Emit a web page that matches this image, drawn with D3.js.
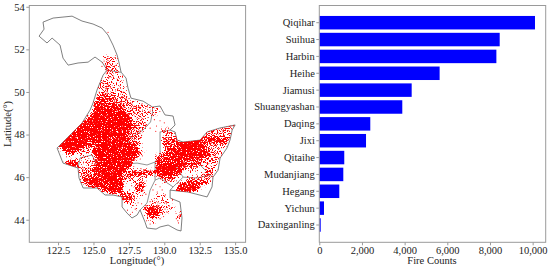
<!DOCTYPE html>
<html><head><meta charset="utf-8">
<script src="https://cdn.jsdelivr.net/npm/d3@7"></script>
<style>html,body{margin:0;padding:0;background:#fff}svg{display:block}text{font-family:"Liberation Serif",serif;fill:#222}</style>
</head><body><div id="c"></div>
<script>
const cities=["Qiqihar","Suihua","Harbin","Heihe","Jiamusi","Shuangyashan","Daqing","Jixi","Qitaihe","Mudanjiang","Hegang","Yichun","Daxinganling"];
const fireCounts=[10110,8456,8300,5640,4330,3890,2390,2190,1170,1125,937,220,66];
const countTicks=[0,2000,4000,6000,8000,10000];
const lonTicks=[122.5,125,127.5,130,132.5,135];
const latTicks=[44,46,48,50,52,54];
const outline=[[121.16,52.62],[121.51,52.95],[121.44,53.28],[122.15,53.47],[123.49,53.56],[124.19,53.33],[124.97,53.19],[125.61,53.0],[126.03,52.67],[126.38,52.2],[126.67,51.73],[126.81,51.36],[126.95,50.93],[127.3,50.65],[127.44,50.18],[127.65,49.71],[128.5,49.57],[129.17,49.29],[129.7,49.34],[130.05,48.92],[130.62,48.87],[130.76,48.45],[130.41,48.21],[130.76,48.12],[130.9,47.74],[131.33,47.65],[132.53,47.74],[133.02,48.12],[133.94,48.31],[135.0,48.45],[134.79,48.21],[134.64,47.74],[134.43,47.37],[133.94,46.9],[133.8,46.33],[133.44,46.0],[133.37,45.54],[133.02,45.07],[131.68,45.3],[130.41,45.39],[130.41,45.02],[131.11,44.83],[131.25,44.08],[131.18,43.47],[130.9,43.52],[130.27,43.75],[129.7,43.66],[129.42,43.56],[128.78,43.61],[128.64,43.89],[128.29,44.46],[128.08,44.22],[127.72,44.08],[127.37,44.31],[127.02,44.6],[127.02,45.07],[126.38,45.16],[125.82,45.16],[125.25,45.49],[124.27,45.49],[123.98,45.96],[123.91,46.43],[122.85,46.66],[122.43,47.37],[123.35,47.98],[124.19,48.54],[124.76,49.15],[124.97,49.48],[125.25,50.09],[125.68,50.79],[125.96,51.03],[125.61,51.4],[125.11,51.64],[124.62,51.4],[123.91,51.36],[123.21,51.26],[122.85,51.59],[122.64,52.2],[122.08,52.53],[121.72,52.3],[121.16,52.62]];
const borders=[
[[125.96,51.03],[126.74,50.93],[126.95,50.93]],
[[129.17,49.29],[129.17,49.05],[129.03,48.59],[128.5,48.21],[127.44,47.74],[127.58,47.37],[127.72,46.8],[127.37,46.62],[128.08,46.66],[128.78,46.57],[129.35,46.71],[129.7,47.04],[129.7,48.12],[130.41,48.21]],
[[129.35,46.71],[129.35,45.86],[129.0,45.39],[128.78,44.78],[128.29,44.46]],
[[129.35,45.86],[129.7,45.96],[130.62,45.54],[130.41,45.39]],
[[130.62,45.54],[131.33,46.0],[132.31,45.96],[133.23,46.1],[133.44,46.0]],
[[130.76,46.57],[131.33,46.0]],
[[132.53,46.57],[133.23,46.1]],
[[123.91,46.43],[124.05,46.9],[124.9,47.04],[125.25,46.57],[124.97,45.96]]
];
// fire cover: [row, first column, last column, level 1-4]
const fireCover=[[0,15,19,1],[1,15,19,1],[2,15,19,1],[3,15,19,2],[4,16,20,2],[5,16,20,1],[6,15,21,1],[7,15,21,1],[8,14,16,2],[8,17,21,1],[9,14,16,2],[9,17,21,1],[10,14,17,2],[10,18,22,1],[11,14,17,2],[11,18,22,1],[12,14,17,2],[12,18,22,1],[13,13,18,3],[13,19,23,2],[14,13,18,3],[14,19,23,2],[15,12,18,3],[15,19,26,2],[16,12,20,3],[16,21,28,2],[16,29,32,1],[17,12,21,4],[17,22,27,2],[17,28,33,1],[18,12,22,4],[18,23,28,2],[18,29,33,1],[19,11,23,4],[19,24,29,2],[19,30,32,1],[20,10,23,4],[20,24,30,1],[21,9,24,4],[21,25,30,1],[22,5,8,3],[22,9,24,4],[22,25,29,2],[23,4,25,4],[23,26,29,2],[23,52,58,1],[24,3,24,4],[24,25,28,2],[24,35,37,1],[24,50,58,2],[25,2,23,4],[25,24,27,2],[25,35,38,2],[25,48,57,2],[26,1,22,4],[26,23,27,2],[26,35,40,2],[26,46,57,2],[27,0,16,4],[27,17,18,2],[27,19,23,4],[27,24,27,2],[27,35,44,2],[27,45,57,3],[28,0,23,4],[28,24,27,2],[28,35,56,3],[29,0,9,4],[29,10,14,3],[29,15,25,4],[29,26,27,2],[29,35,40,3],[29,41,48,4],[29,49,55,2],[30,1,8,4],[30,9,12,2],[30,13,26,4],[30,36,39,3],[30,40,48,4],[30,49,55,2],[31,2,6,4],[31,7,11,2],[31,12,26,4],[31,27,28,2],[31,36,39,3],[31,40,49,4],[31,50,54,2],[32,3,5,3],[32,7,11,1],[32,12,27,4],[32,35,39,3],[32,40,50,4],[32,51,54,2],[33,8,12,1],[33,13,26,4],[33,33,38,3],[33,39,49,4],[33,50,54,2],[34,3,6,1],[34,8,12,1],[34,13,25,4],[34,33,47,3],[34,48,53,2],[35,3,6,4],[35,8,11,1],[35,12,24,4],[35,33,41,4],[35,42,47,3],[35,48,53,2],[36,3,6,4],[36,7,12,1],[36,13,24,4],[36,33,41,4],[36,42,46,3],[36,47,52,1],[37,3,5,3],[37,7,11,2],[37,12,23,4],[37,33,41,4],[37,42,46,2],[37,49,52,2],[38,7,11,2],[38,12,22,4],[38,24,31,3],[38,32,41,4],[38,44,46,1],[38,49,52,2],[39,8,12,2],[39,13,21,4],[39,23,31,3],[39,33,40,4],[39,48,51,3],[40,8,12,3],[40,13,21,4],[40,22,25,2],[40,26,29,1],[40,34,39,3],[40,43,50,1],[41,8,12,3],[41,13,21,4],[41,22,25,2],[41,27,28,2],[41,35,38,2],[41,43,50,3],[42,9,13,3],[42,14,21,4],[42,26,28,3],[42,41,49,3],[43,10,14,3],[43,15,21,4],[43,26,28,3],[43,40,47,4],[44,13,14,2],[44,15,21,4],[44,26,28,3],[44,40,46,4],[45,16,21,3],[45,22,24,2],[45,26,28,2],[45,40,44,4],[46,21,25,3],[46,27,27,1],[46,33,35,1],[46,41,43,3],[47,21,25,3],[47,33,36,1],[47,38,39,1],[48,22,25,2],[48,31,36,1],[49,24,25,1],[49,30,37,1],[50,25,26,1],[50,29,33,3],[50,34,38,1],[51,29,34,4],[51,35,38,1],[52,30,33,4],[52,34,35,1],[52,40,41,2],[53,27,27,1],[53,30,33,3],[53,40,41,3],[54,30,31,1],[55,31,32,1]];
const coverOpacity=[0,.33,.5,.8,1];
const coverLat0=51.68, coverLon0=122.43, coverDlat=.1409, coverDlon=.2119;
const firePoints=[[126.03,52.8],[125.75,51.45],[126.0,51.5],[126.15,51.35],[125.9,51.25],[125.6,51.2],[126.1,51.15],[126.3,51.05],[125.85,51.05],[126.0,51.0],[126.15,51.02],[125.95,50.95],
[125.9,50.85],[126.1,50.7],[126.4,50.75],[126.7,50.6],[125.7,50.5],[126.0,50.4],[126.3,50.45],[126.9,50.3],[125.5,50.25],[125.85,50.15],[126.2,50.2],[126.55,50.1],[127.1,50.0],[125.4,50.0],[125.7,49.9],[126.0,49.95],[126.35,49.85],[126.75,49.8],[127.3,49.7],[125.55,49.65],[125.9,49.7],[126.15,49.6],[126.5,49.55],[126.95,49.5],[127.4,49.45],[127.75,49.5],[125.45,49.4],[125.75,49.45],[126.3,49.35],[126.65,49.3],[127.1,49.25],[127.5,49.2],[128.0,49.3],[128.4,49.4],[128.8,49.3],[126.85,49.05],[127.2,48.95],[127.55,49.0],[127.9,49.05],[128.25,49.1],[128.65,49.05],[129.0,49.1],[129.35,48.95],[127.05,48.7],[127.4,48.75],[127.75,48.7],[128.1,48.8],[128.45,48.75],[128.85,48.8],[129.3,48.7],[129.7,48.65],[127.2,48.45],[127.6,48.5],[127.95,48.4],[128.3,48.55],[128.7,48.45],[129.0,48.3],[129.45,48.4],[130.0,48.55],[130.3,48.3],[127.15,48.15],[127.45,48.2],[127.8,48.05],[128.1,48.1],[128.4,47.95],[129.4,48.15],[127.35,47.95],[127.6,47.85],[127.9,47.75],[127.25,47.55],[127.4,47.35],[127.6,47.2],[127.3,47.1],[128.0,47.4],[128.2,47.15],[128.45,47.0],[128.3,46.85],
[128.35,46.4],[128.6,46.35],[128.15,46.25],[128.9,46.3],[129.15,46.3],[127.9,46.3],[128.2,45.6],[127.7,45.6],[127.55,45.4],[128.5,45.4],[128.6,45.7],[128.45,45.15],[128.7,45.2],[127.85,44.95],[128.15,44.8],[127.4,44.45],[127.75,44.35],[127.6,44.25],[127.95,44.5],[128.4,44.75],
[129.0,44.85],[129.3,45.0],[129.55,44.8],[129.85,44.9],[130.15,44.75],[130.35,44.65],[130.05,44.5],[130.2,44.35],[129.85,44.35],[129.65,44.55],[129.25,44.65],[128.75,44.65],[128.6,44.2],[128.75,43.95],[129.0,43.8],[129.7,44.05],[129.95,44.15],[130.85,44.05],[130.95,43.95],[131.05,44.1],[131.0,43.85],[129.2,45.4],[129.5,45.3],[129.85,45.4],[130.05,45.15],[129.4,45.65],[129.7,45.55],
[133.9,48.2],[134.25,48.3],[134.55,48.2],[134.7,48.4],[134.9,48.42]];

const W=550,H=270;
const svg=d3.select("#c").append("svg").attr("width",W).attr("height",H);
const gray="#9a9a9a",dark="#222";
const left={l:29.3,r:245.6,t:5.5,b:242.3},right={l:319.3,r:545.7,t:5.5,b:242.3};
const x=d3.scaleLinear().domain([120.47,135.74]).range([left.l,left.r]);
const y=d3.scaleLinear().domain([42.94,54.06]).range([left.b,left.t]);
const line=d3.line().x(d=>x(d[0])).y(d=>y(d[1]));
const defs=svg.append("defs");
defs.append("clipPath").attr("id","region").append("path").attr("d",line(outline)+"Z");
const f=defs.append("filter").attr("id","speck").attr("filterUnits","userSpaceOnUse").attr("x",left.l).attr("y",left.t).attr("width",left.r-left.l).attr("height",left.b-left.t).attr("color-interpolation-filters","sRGB");
f.append("feGaussianBlur").attr("in","SourceGraphic").attr("stdDeviation",1.6).attr("result","density");
f.append("feTurbulence").attr("type","fractalNoise").attr("baseFrequency",.8).attr("numOctaves",2).attr("seed",7).attr("result","noise");
f.append("feColorMatrix").attr("in","noise").attr("type","matrix").attr("values","0 0 0 0 0  0 0 0 0 0  0 0 0 0 0  2.6 0 0 0 -.8").attr("result","noiseA");
f.append("feComposite").attr("in","density").attr("in2","noiseA").attr("operator","arithmetic").attr("k1",0).attr("k2",1).attr("k3",1).attr("k4",-1).attr("result","sum");
const ct=f.append("feComponentTransfer").attr("in","sum").attr("result","mask");
ct.append("feFuncA").attr("type","linear").attr("slope",6).attr("intercept",0);
f.append("feFlood").attr("flood-color","#f00").attr("result","red");
f.append("feComposite").attr("in","red").attr("in2","mask").attr("operator","in").attr("result","specks");
f.append("feGaussianBlur").attr("in","specks").attr("stdDeviation",.3);
const map=svg.append("g");
map.selectAll("path.b").data(borders).join("path").attr("class","b").attr("d",line).attr("fill","none").attr("stroke","#666").attr("stroke-width",.7);
map.append("path").attr("d",line(outline)).attr("fill","none").attr("stroke","#555").attr("stroke-width",.75);
const cover=map.append("g").attr("clip-path","url(#region)").append("g").attr("filter","url(#speck)");
cover.selectAll("rect").data(fireCover).join("rect")
 .attr("x",d=>x(coverLon0+d[1]*coverDlon))
 .attr("width",d=>x(coverLon0+(d[2]+1)*coverDlon)-x(coverLon0+d[1]*coverDlon))
 .attr("y",d=>y(coverLat0-d[0]*coverDlat))
 .attr("height",d=>y(coverLat0-(d[0]+1)*coverDlat)-y(coverLat0-d[0]*coverDlat))
 .attr("fill","#f00").attr("opacity",d=>coverOpacity[d[3]]).attr("shape-rendering","crispEdges");
map.selectAll("circle.f").data(firePoints).join("circle").attr("class","f").attr("cx",d=>x(d[0])).attr("cy",d=>y(d[1])).attr("r",.55).attr("fill","#f00");

function frame(p){svg.append("rect").attr("x",p.l).attr("y",p.t).attr("width",p.r-p.l).attr("height",p.b-p.t).attr("fill","none").attr("stroke",gray).attr("stroke-width",1);}
function style(g){g.select(".domain").remove();g.selectAll("line").attr("stroke",gray);g.selectAll("text").attr("font-size",10.5).attr("fill",dark).attr("font-family","Liberation Serif");}
frame(left);
svg.append("g").attr("transform",`translate(0,${left.b})`).call(d3.axisBottom(x).tickValues(lonTicks).tickFormat(d3.format(".1f")).tickSize(3).tickPadding(1.5)).call(style);
svg.append("g").attr("transform",`translate(${left.l},0)`).call(d3.axisLeft(y).tickValues(latTicks).tickFormat(d3.format("d")).tickSize(3).tickPadding(1.5)).call(style);
svg.append("text").attr("x",137).attr("y",264).attr("text-anchor","middle").attr("font-size",10.5).text("Longitude(°)");
svg.append("text").attr("transform","translate(11,124) rotate(-90)").attr("text-anchor","middle").attr("font-size",10.5).text("Latitude(°)");

const bx=d3.scaleLinear().domain([0,10612]).range([right.l,right.r]);
const by=d3.scaleBand().domain(cities).range([14.27,233.43]).paddingInner(.2).paddingOuter(.1);
svg.append("g").selectAll("rect").data(cities).join("rect").attr("x",bx(0)).attr("y",d=>by(d)).attr("height",by.bandwidth()).attr("width",(d,i)=>bx(fireCounts[i])-bx(0)).attr("fill","#0000ff");
frame(right);
svg.append("g").attr("transform",`translate(0,${right.b})`).call(d3.axisBottom(bx).tickValues(countTicks).tickFormat(d3.format(",")).tickSize(3).tickPadding(1.5)).call(style);
svg.append("g").attr("transform",`translate(${right.l},0)`).call(d3.axisLeft(by).tickSize(3).tickPadding(1.5)).call(style);
svg.append("text").attr("x",432).attr("y",264).attr("text-anchor","middle").attr("font-size",10.5).text("Fire Counts");
</script></body></html>
